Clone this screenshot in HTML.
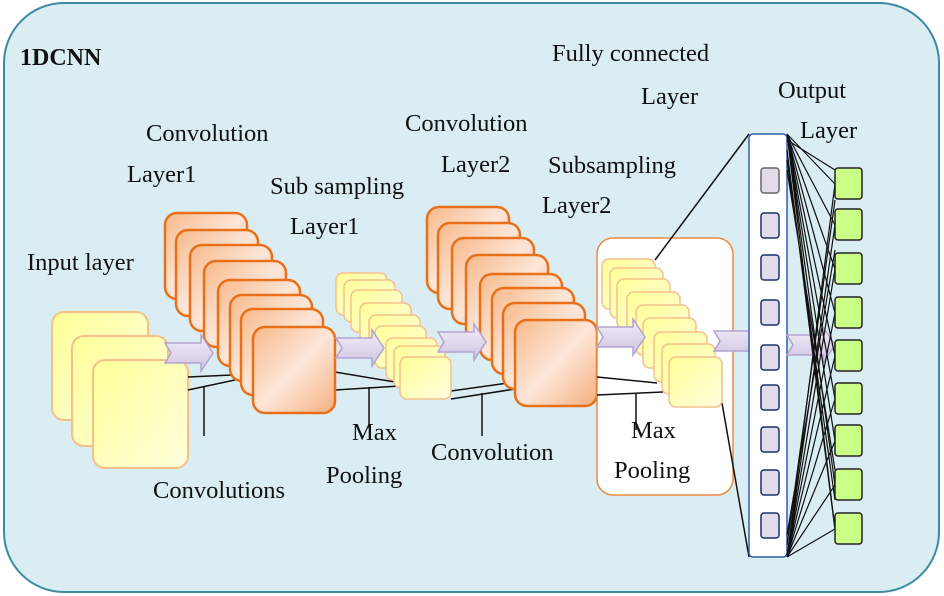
<!DOCTYPE html>
<html><head><meta charset="utf-8"><style>
html,body{margin:0;padding:0;background:#fff;}
svg{display:block;}
text{font-family:"Liberation Serif",serif;font-size:24.5px;fill:#111;}
</style></head><body>
<svg width="944" height="596" viewBox="0 0 944 596" xmlns="http://www.w3.org/2000/svg">
<defs>
<linearGradient id="yel" x1="0" y1="0" x2="1" y2="1"><stop offset="0" stop-color="#ffff99"/><stop offset="1" stop-color="#ffffdd"/></linearGradient>
<linearGradient id="org" x1="0" y1="0" x2="1" y2="1"><stop offset="0" stop-color="#f7b98a"/><stop offset="0.5" stop-color="#fde6d8"/><stop offset="1" stop-color="#f5b080"/></linearGradient>
<linearGradient id="arr" x1="0" y1="0" x2="0" y2="1"><stop offset="0" stop-color="#f2eef8"/><stop offset="1" stop-color="#cfc4e0"/></linearGradient>
<g id="cs"><rect width="82" height="86" rx="12" fill="url(#org)" stroke="#e8701a" stroke-width="2.5"/></g>
<g id="ps"><rect width="51" height="42" rx="7" fill="url(#yel)" stroke="#f5c08a" stroke-width="1.5"/></g>
<g id="qs"><rect width="53" height="50" rx="7" fill="url(#yel)" stroke="#f5c08a" stroke-width="1.5"/></g>
<g id="ar"><path d="M0,0 L36,0 L36,-8 L48,10 L36,28 L36,20 L0,20 L6,10 Z" fill="url(#arr)" stroke="#b3a3cf" stroke-width="1.5"/></g>
</defs>
<rect x="4" y="3" width="935" height="589" rx="60" fill="#daedf3" stroke="#3d8ba0" stroke-width="2"/>

<rect x="52" y="312" width="96" height="108" rx="12" fill="url(#yel)" stroke="#f5c08a" stroke-width="2"/>
<rect x="72" y="336" width="96" height="110" rx="12" fill="url(#yel)" stroke="#f5c08a" stroke-width="2"/>
<rect x="93" y="360" width="95" height="108" rx="12" fill="url(#yel)" stroke="#f5c08a" stroke-width="2"/>

<g stroke="#111" stroke-width="1.5" fill="none">
<path d="M188,377 L232,375 M188,390 L235,380 M204,386 L204,436"/>
<path d="M335,372 L395,382 M335,390 L400,386 M369,387 L369,428"/>
<path d="M451,391 L515,382 M451,399 L515,389 M482,393 L482,436"/>
</g>

<use href="#cs" x="165" y="213"/><use href="#cs" x="176" y="230"/><use href="#cs" x="190" y="245"/><use href="#cs" x="204" y="261"/><use href="#cs" x="218" y="280"/><use href="#cs" x="230" y="295"/><use href="#cs" x="241" y="309"/><use href="#cs" x="253" y="327"/>
<use href="#ar" x="165" y="343"/>

<use href="#ps" x="336" y="273"/><use href="#ps" x="344" y="280"/><use href="#ps" x="351" y="290"/><use href="#ps" x="360" y="303"/><use href="#ps" x="369" y="315"/><use href="#ps" x="375" y="326"/><use href="#ps" x="386" y="338"/><use href="#ps" x="394" y="346"/><use href="#ps" x="400" y="357"/>
<use href="#ar" x="336" y="338"/>

<use href="#cs" x="427" y="207"/><use href="#cs" x="438" y="223"/><use href="#cs" x="452" y="238"/><use href="#cs" x="466" y="255"/><use href="#cs" x="480" y="274"/><use href="#cs" x="492" y="288"/><use href="#cs" x="503" y="303"/><use href="#cs" x="515" y="320"/>
<use href="#ar" x="438" y="332"/>

<rect x="597" y="238" width="136" height="257" rx="16" fill="#fff" stroke="#ee8a40" stroke-width="1.5"/>
<g stroke="#111" stroke-width="1.5" fill="none">
<path d="M597,377 L657,383 M597,395 L663,392 M636,393 L636,430"/>
<path d="M749,134 L655,260 M749,557 L722,403"/>
</g>
<use href="#qs" x="602" y="259"/><use href="#qs" x="610" y="268"/><use href="#qs" x="617" y="279"/><use href="#qs" x="627" y="292"/><use href="#qs" x="636" y="305"/><use href="#qs" x="643" y="318"/><use href="#qs" x="654" y="332"/><use href="#qs" x="662" y="344"/><use href="#qs" x="669" y="357"/>
<use href="#ar" x="597" y="327"/>
<use href="#ar" x="714" y="331"/>

<rect x="749" y="134" width="38" height="423" rx="4" fill="#fff" stroke="#2e5fa8" stroke-width="1.5"/>
<g fill="#e2dcea" stroke="#1a2f6e" stroke-width="1.5">
<rect x="761" y="168" width="18" height="25" rx="3" stroke="#666"/>
<rect x="761" y="213" width="18" height="25" rx="3"/>
<rect x="761" y="255" width="18" height="25" rx="3"/>
<rect x="761" y="300" width="18" height="25" rx="3"/>
<rect x="761" y="345" width="18" height="25" rx="3"/>
<rect x="761" y="385" width="18" height="25" rx="3"/>
<rect x="761" y="427" width="18" height="25" rx="3"/>
<rect x="761" y="470" width="18" height="25" rx="3"/>
<rect x="761" y="513" width="18" height="25" rx="3"/>
</g>

<use href="#ar" x="787" y="335"/>
<g stroke="#111" stroke-width="1.2" fill="none">
<path d="M787,134 L835,184 M787,134 L835,225 M787,134 L835,269 M787,134 L835,313 M787,134 L835,356 M787,134 L835,399 M787,134 L835,441 M787,134 L835,485 M787,134 L835,529"/>
<path d="M787,557 L835,184 M787,557 L835,225 M787,557 L835,269 M787,557 L835,313 M787,557 L835,356 M787,557 L835,399 M787,557 L835,441 M787,557 L835,485 M787,557 L835,529"/>
<path d="M787,140 L835,170 M787,150 L835,530 M787,160 L835,500 M787,545 L835,200 M787,535 L835,250 M787,170 L835,470"/>
</g>

<g fill="#ccff88" stroke="#222" stroke-width="1.5">
<rect x="835" y="168" width="27" height="31" rx="3"/>
<rect x="835" y="209" width="27" height="31" rx="3"/>
<rect x="835" y="253" width="27" height="31" rx="3"/>
<rect x="835" y="297" width="27" height="31" rx="3"/>
<rect x="835" y="340" width="27" height="31" rx="3"/>
<rect x="835" y="383" width="27" height="31" rx="3"/>
<rect x="835" y="425" width="27" height="31" rx="3"/>
<rect x="835" y="469" width="27" height="31" rx="3"/>
<rect x="835" y="513" width="27" height="31" rx="3"/>
</g>

<text x="20" y="65" style="font-weight:bold;font-size:24px">1DCNN</text>
<text x="552" y="61">Fully connected</text>
<text x="641" y="104">Layer</text>
<text x="778" y="98">Output</text>
<text x="800" y="138">Layer</text>
<text x="146" y="141">Convolution</text>
<text x="127" y="182">Layer1</text>
<text x="405" y="131">Convolution</text>
<text x="441" y="172">Layer2</text>
<text x="548" y="173">Subsampling</text>
<text x="542" y="213">Layer2</text>
<text x="270" y="194">Sub sampling</text>
<text x="290" y="234">Layer1</text>
<text x="27" y="270">Input layer</text>
<text x="153" y="498">Convolutions</text>
<text x="352" y="440">Max</text>
<text x="326" y="483">Pooling</text>
<text x="431" y="460">Convolution</text>
<text x="631" y="438">Max</text>
<text x="614" y="478">Pooling</text>
</svg>
</body></html>
